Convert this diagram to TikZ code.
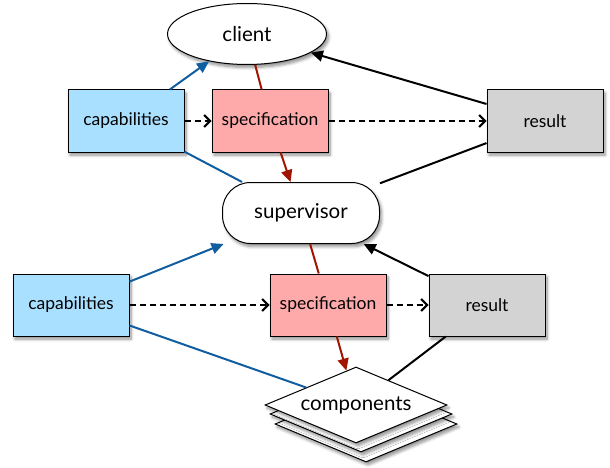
\documentclass[tikz,border=0pt]{standalone}
\usepackage{fontspec}
\setmainfont{Lato}
\usetikzlibrary{arrows.meta,shapes.geometric,shadows.blur}
\definecolor{capfill}{RGB}{170,224,255}
\definecolor{specfill}{RGB}{255,170,170}
\definecolor{resfill}{RGB}{211,211,211}
\definecolor{linkblue}{RGB}{16,94,160}
\definecolor{linkred}{RGB}{160,20,0}
\begin{document}
\begin{tikzpicture}[x=1pt,y=-1pt,
  shad/.style={blur shadow={shadow xshift=2pt,shadow yshift=-3pt,shadow opacity=45,shadow blur steps=6,shadow blur radius=3pt}},
  lbl/.style={font=\fontsize{17.5}{20}\selectfont, text=black},
  biglbl/.style={font=\fontsize{20.5}{24}\selectfont, text=black},
  box/.style={draw=black, line width=1pt, minimum width=116pt, minimum height=62pt, inner sep=0pt, shad, lbl},
  capbox/.style={box, fill=capfill},
  specbox/.style={box, fill=specfill},
  resbox/.style={box, fill=resfill},
  clientnode/.style={ellipse, draw=black, line width=1pt, fill=white, minimum width=159pt, minimum height=61pt, inner sep=0pt, shad, biglbl},
  supnode/.style={rectangle, rounded corners=28pt, draw=black, line width=1pt, fill=white, minimum width=157pt, minimum height=61pt, inner sep=0pt, shad, biglbl},
  compnode/.style={diamond, aspect=2.4, draw=black, line width=1pt, fill=white, minimum width=182pt, minimum height=76pt, inner sep=0pt, shad, biglbl},
  link/.style={line width=2pt},
  bluel/.style={link, draw=linkblue},
  redl/.style={link, draw=linkred},
  blackl/.style={link, draw=black},
  tri/.style={-{Triangle[length=12pt,width=11pt]}},
  dasharr/.style={link, draw=black, dash pattern=on 6pt off 4pt, -{Straight Barb[length=6pt,width=12pt,line width=2pt]}}
]
\useasboundingbox (0,0) rectangle (610,468);

% nodes
\node[clientnode] (client) at (247,34) {client};
\node[capbox] (cap1) at (126,121) {capabilities};
\node[specbox] (spec1) at (270,121) {specification};
\node[resbox] (res1) at (545,121) {result};
\node[supnode] (sup) at (301,213) {supervisor};
\node[capbox] (cap2) at (71,305) {capabilities};
\node[specbox] (spec2) at (328,305) {specification};
\node[resbox] (res2) at (487,305) {result};
\node[compnode] (comp3) at (366,424) {};
\node[compnode] (comp2) at (361,414) {};
\node[compnode] (comp) at (356,405) {components};

% connectors top
\draw[bluel,tri] (cap1) -- (client);
\draw[bluel] (cap1) -- (sup);
\draw[dasharr] (cap1) -- (spec1);
\draw[redl] (client) -- (spec1);
\draw[redl,tri] (spec1) -- (sup);
\draw[dasharr] (spec1) -- (res1);
\draw[blackl,tri] (res1) -- (client);
\draw[blackl] (res1) -- (sup);

% connectors bottom
\draw[bluel,tri] (cap2) -- (sup);
\draw[bluel] (cap2) -- (comp);
\draw[dasharr] (cap2) -- (spec2);
\draw[redl] (sup) -- (spec2);
\draw[redl,tri] (spec2) -- (comp);
\draw[dasharr] (spec2) -- (res2);
\draw[blackl,tri] (res2) -- (sup);
\draw[blackl] (res2) -- (comp);
\end{tikzpicture}
\end{document}
